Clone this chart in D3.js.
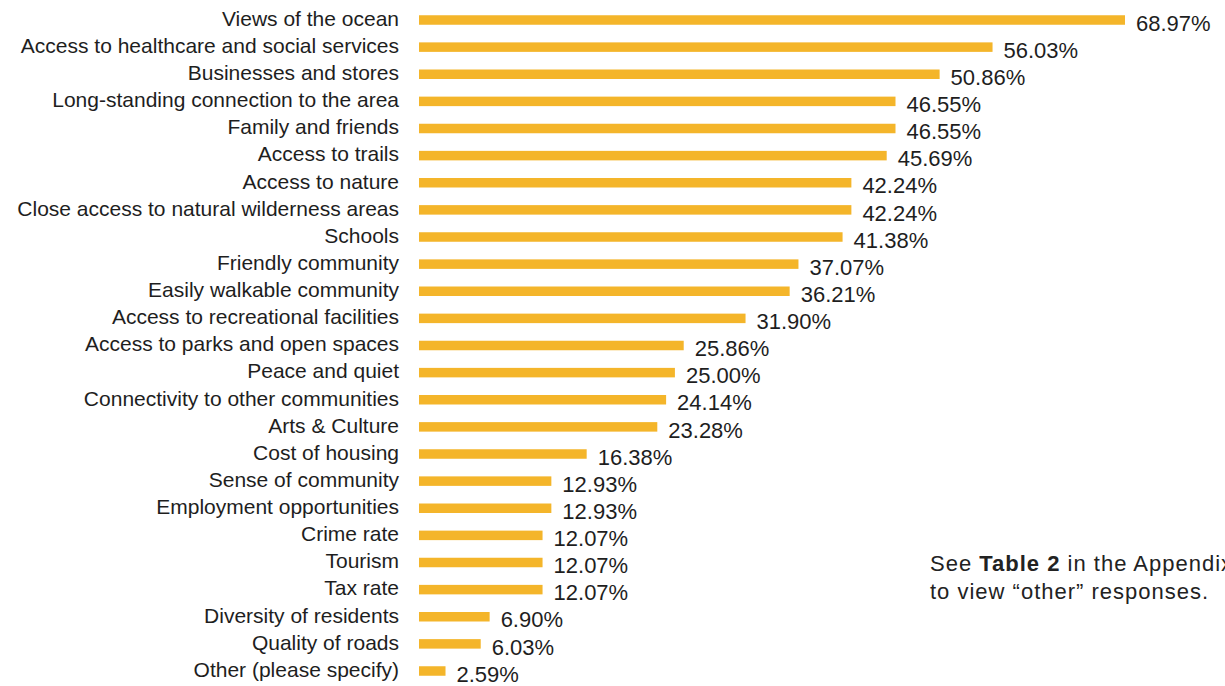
<!DOCTYPE html>
<html><head><meta charset="utf-8">
<script src="https://cdn.jsdelivr.net/npm/d3@7"></script>
<style>
html,body{margin:0;padding:0;background:#fff;overflow:hidden;}
svg{display:block;}
</style></head>
<body>
<svg id="chart" width="1225" height="686"></svg>
<script>
const categories = ["Views of the ocean","Access to healthcare and social services","Businesses and stores","Long-standing connection to the area","Family and friends","Access to trails","Access to nature","Close access to natural wilderness areas ","Schools","Friendly community","Easily walkable community","Access to recreational facilities","Access to parks and open spaces","Peace and quiet","Connectivity to other communities","Arts & Culture","Cost of housing","Sense of community","Employment opportunities","Crime rate","Tourism","Tax rate","Diversity of residents","Quality of roads","Other (please specify)"];
const values = [68.97,56.03,50.86,46.55,46.55,45.69,42.24,42.24,41.38,37.07,36.21,31.90,25.86,25.00,24.14,23.28,16.38,12.93,12.93,12.07,12.07,12.07,6.90,6.03,2.59];

const svg = d3.select("#chart");
const x = d3.scaleLinear().domain([0,68.97]).range([419,1125]);
const bw = 9.5;
const step = (671 - 20) / 24;
const y = d3.scaleBand().domain(categories)
  .range([20 - bw/2, 20 - bw/2 + step*(categories.length-1) + bw])
  .paddingInner(1 - bw/step).paddingOuter(0);
const font = "'Liberation Sans', Arial, sans-serif";
const barColor = "#f4b52a";
const txt = "#1e1e1e";

svg.selectAll("rect.bar").data(categories).join("rect")
  .attr("class","bar")
  .attr("x", x(0))
  .attr("y", d => y(d))
  .attr("width", (d,i) => x(values[i]) - x(0))
  .attr("height", y.bandwidth())
  .attr("fill", barColor);

svg.selectAll("text.cat").data(categories).join("text")
  .attr("class","cat")
  .attr("x", 399)
  .attr("y", d => y(d) + y.bandwidth()/2 - 1.5)
  .attr("dy","0.35em")
  .attr("text-anchor","end")
  .attr("font-family", font)
  .attr("font-size", 21)
  .attr("fill", txt)
  .text(d => d);

svg.selectAll("text.val").data(categories).join("text")
  .attr("class","val")
  .attr("x", (d,i) => x(values[i]) + 11)
  .attr("y", d => y(d) + y.bandwidth()/2 + 3)
  .attr("dy","0.35em")
  .attr("font-family", font)
  .attr("font-size", 22)
  .attr("fill", txt)
  .text((d,i) => values[i].toFixed(2) + "%");

const note = svg.append("text").attr("font-family", font).attr("font-size", 22)
  .attr("letter-spacing", 1.0).attr("fill", "#222");
const l1 = note.append("tspan").attr("x", 930).attr("y", 571);
l1.append("tspan").text("See ");
l1.append("tspan").attr("font-weight","bold").text("Table 2");
l1.append("tspan").text(" in the Appendix");
note.append("tspan").attr("x", 930).attr("y", 599).text("to view \u201Cother\u201D responses.");
</script>
</body></html>
